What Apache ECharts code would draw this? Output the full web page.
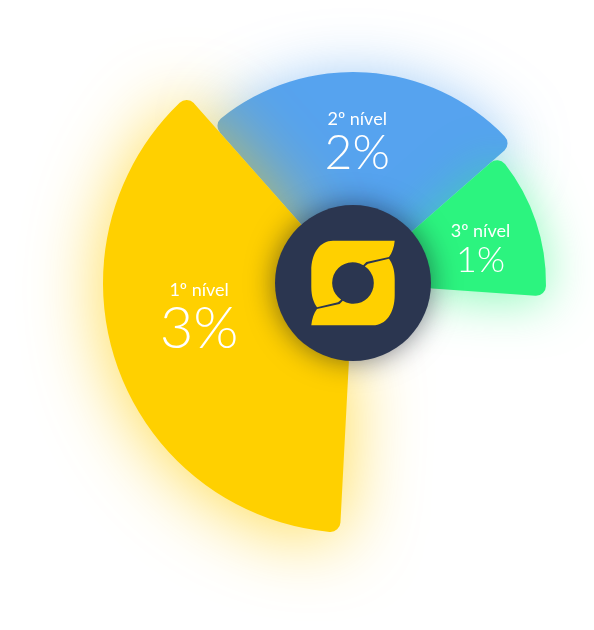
<!DOCTYPE html>
<html><head><meta charset="utf-8">
<script src="https://cdn.jsdelivr.net/npm/echarts@6/dist/echarts.min.js"></script>
<style>html,body{margin:0;padding:0;background:#fff}#c{width:594px;height:630px}</style>
</head><body><div id="c"></div>
<script>
// ---- data ----
const categories = ['1º nível', '2º nível', '3º nível'];
const values = [3, 2, 1];
const valueSuffix = '%';

// ---- styles / layout ----
const CX = 353, CY = 283;
const colors = ['#FFD000', '#56A3EF', '#2CF47F'];
const glows = ['rgba(255,204,0,0.7)', 'rgba(86,163,239,0.65)', 'rgba(44,244,127,0.55)'];
const glowBlur = [75, 60, 50];
const outerR = [250, 211, 193];
const innerR = 70;
const bigFont = [58, 48, 36];
const smallFont = [18, 18, 18];
const labelPad = [[0, 0, 36, 0], [6, 10, 0, 0], [19, 0, 0, 0]];
const seriesZ = [3, 1, 3];
const FONT = 'Lato, "Open Sans", sans-serif';

function sliceSeries(idx) {
  return {
    type: 'pie',
    z: seriesZ[idx],
    center: [CX, CY],
    radius: [innerR, outerR[idx]],
    startAngle: 267,
    endAngle: -4,
    clockwise: true,
    silent: true,
    animation: false,
    avoidLabelOverlap: false,
    labelLine: { show: false },
    data: categories.map((name, i) => {
      const on = i === idx;
      return {
        name: name,
        value: values[i],
        itemStyle: on ? {
          color: colors[i],
          borderRadius: 10,
          shadowBlur: glowBlur[i],
          shadowColor: glows[i],
          shadowOffsetY: 6
        } : { color: 'rgba(0,0,0,0)', shadowBlur: 0 },
        label: on ? {
          show: true,
          position: 'inside',
          padding: labelPad[i],
          formatter: '{a|' + name + '}\n{b|' + values[i] + valueSuffix + '}',
          rich: {
            a: { color: '#fff', fontSize: smallFont[i], lineHeight: smallFont[i] + 3, fontFamily: FONT, fontWeight: 400, align: 'center' },
            b: { color: '#fff', fontSize: bigFont[i], lineHeight: bigFont[i], fontFamily: FONT, fontWeight: 300, align: 'center' }
          }
        } : { show: false }
      };
    })
  };
}

const TOP = 'M41.7 -42.3 L-20 -42.3 C-33 -42.3 -41.7 -30 -41.7 -12 L-41.7 4 C-41.7 14 -39 20 -36 24.3 L-15 19.3 L-11.8 16.8 A20.5 20.5 0 0 1 10.25 -17.75 L13.4 -21 L36 -26 C39 -30 41.2 -36 41.7 -42.3 Z';
const BOT = 'M-41.7 42.3 L20 42.3 C33 42.3 41.7 30 41.7 12 L41.7 -4 C41.7 -14 39 -20 36 -24.3 L15 -19.3 L11.8 -16.8 A20.5 20.5 0 0 1 -10.25 17.75 L-13.4 21 L-36 26 C-39 30 -41.2 36 -41.7 42.3 Z';

const chart = echarts.init(document.getElementById('c'), null, { renderer: 'canvas' });
chart.setOption({
  backgroundColor: '#ffffff',
  animation: false,
  series: [
    sliceSeries(1),
    sliceSeries(0),
    sliceSeries(2),
    {
      type: 'custom',
      coordinateSystem: 'none',
      z: 10,
      silent: true,
      data: [[0]],
      renderItem: function () {
        return {
          type: 'group',
          children: [
            { type: 'circle', shape: { cx: CX, cy: CY, r: 78 },
              style: { fill: '#2B3650', shadowBlur: 28, shadowColor: 'rgba(15,20,35,0.55)' } },
            { type: 'path', x: CX, y: CY, shape: { pathData: TOP + ' ' + BOT },
              style: { fill: '#FFD000' } }
          ]
        };
      }
    }
  ]
});
</script></body></html>
